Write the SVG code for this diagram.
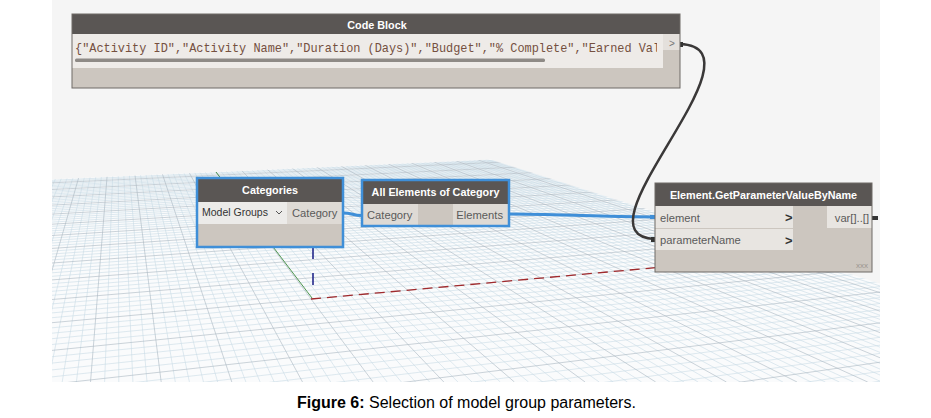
<svg xmlns="http://www.w3.org/2000/svg" width="931" height="418" viewBox="0 0 931 418">
<style>
.hdr{fill:#5a5654}
.body{fill:#ccc6bf}
.lite{fill:#e8e5e1}
.portbg{fill:#dedad5}
.ttl{font-family:"Liberation Sans",Arial,sans-serif;font-weight:bold;font-size:10.8px;fill:#ffffff;text-anchor:middle}
.pt{font-family:"Liberation Sans",Arial,sans-serif;font-size:11.2px;fill:#5a5a5a}
.sel{fill:none;stroke:#3f8fd8;stroke-width:2.5}
.frame{fill:none;stroke:#6f6a66;stroke-width:1}
.gmin{fill:none;stroke:#cadbe6;stroke-width:0.6}
.gmaj{fill:none;stroke:#a9b7c1;stroke-width:0.6}
.wb{fill:none;stroke:#3f8fd8;stroke-width:3}
.wd{fill:none;stroke:#3a3838;stroke-width:2.5}
.chev{font-family:"Liberation Sans",Arial,sans-serif;font-weight:bold;font-size:13px;fill:#333333}
</style>
<defs>
<clipPath id="plane"><polygon points="52,179.3 490.8,159.6 880,283.5 880,382 52,382"/></clipPath>
<clipPath id="codeclip"><rect x="72" y="33" width="585" height="35"/></clipPath>
</defs>
<rect x="0" y="0" width="931" height="418" fill="#ffffff"/>
<rect x="52" y="0" width="828" height="382" fill="#f5f5f5"/>
<g id="grid" clip-path="url(#plane)">
<rect x="52" y="150" width="828" height="232" fill="#fafbfc"/>
<path class="gmin" d="M118 41L-36.7 382M118 41L-22.5 382M118 41L-8.4 382M118 41L5.7 382M118 41L34 382M118 41L48.1 382M118 41L62.2 382M118 41L76.4 382M118 41L104.6 382M118 41L118.8 382M118 41L132.9 382M118 41L147 382M118 41L175.3 382M118 41L189.4 382M118 41L203.5 382M118 41L217.7 382M118 41L245.9 382M118 41L260.1 382M118 41L274.2 382M118 41L288.3 382M118 41L316.6 382M118 41L330.7 382M118 41L344.8 382M118 41L359 382M118 41L387.2 382M118 41L401.4 382M118 41L415.5 382M118 41L429.6 382M118 41L457.9 382M118 41L472 382M118 41L486.1 382M118 41L500.3 382M118 41L528.5 382M118 41L542.7 382M118 41L556.8 382M118 41L570.9 382M118 41L599.2 382M118 41L613.3 382M118 41L627.4 382M118 41L641.6 382M118 41L669.8 382M118 41L684 382M118 41L698.1 382M118 41L712.2 382M118 41L740.5 382M118 41L754.6 382M118 41L768.7 382M118 41L782.9 382M118 41L811.1 382M118 41L825.3 382M118 41L839.4 382M118 41L853.5 382M118 41L881.8 382M118 41L895.9 382M118 41L910 382M118 41L924.2 382M118 41L952.4 382M118 41L966.6 382M118 41L980.7 382M118 41L994.8 382M118 41L1023.1 382M118 41L1037.2 382M118 41L1051.3 382M118 41L1065.5 382M118 41L1093.7 382M118 41L1107.9 382M118 41L1122 382M118 41L1136.1 382M118 41L1164.4 382M118 41L1178.5 382"/>
<path class="gmin" d="M52 506.2L880 381.2M52 492.8L880 371.4M52 468.2L880 353.4M52 456.9L880 345.2M52 446.2L880 337.3M52 436L880 329.9M52 417.1L880 316M52 408.3L880 309.6M52 399.9L880 303.5M52 391.9L880 297.6M52 376.9L880 286.6M52 369.9L880 281.5M52 363.1L880 276.6M52 356.7L880 271.8M52 344.5L880 262.9M52 338.7L880 258.7M52 333.2L880 254.7M52 327.8L880 250.8M52 317.7L880 243.4M52 312.9L880 239.9M52 308.3L880 236.5M52 303.9L880 233.2M52 295.3L880 227M52 291.3L880 224M52 287.4L880 221.2M52 283.6L880 218.4M52 276.3L880 213.1M52 272.8L880 210.5M52 269.5L880 208.1M52 266.2L880 205.7M52 259.9L880 201.1M52 256.9L880 198.9M52 254L880 196.7M52 251.1L880 194.7M52 245.7L880 190.7M52 243L880 188.7M52 240.5L880 186.9M52 238L880 185M52 233.1L880 181.5M52 230.8L880 179.8M52 228.6L880 178.2M52 226.3L880 176.5M52 222.1L880 173.4M52 220L880 171.9M52 218L880 170.4M52 216L880 169M52 212.2L880 166.2M52 210.4L880 164.9M52 208.6L880 163.5M52 206.8L880 162.2M52 203.4L880 159.7M52 201.7L880 158.5M52 200.1L880 157.3M52 198.5L880 156.2M52 195.4L880 153.9M52 193.9L880 152.8M52 192.4L880 151.7M52 191L880 150.7M52 188.2L880 148.6M52 186.8L880 147.6M52 185.5L880 146.6M52 184.1L880 145.7M52 181.6L880 143.8M52 180.3L880 142.9"/>
<path class="gmaj" d="M118 41L19.9 382M118 41L90.5 382M118 41L161.2 382M118 41L231.8 382M118 41L302.5 382M118 41L373.1 382M118 41L443.8 382M118 41L514.4 382M118 41L585.1 382M118 41L655.7 382M118 41L726.4 382M118 41L797 382M118 41L867.7 382M118 41L938.3 382M118 41L1009 382M118 41L1079.6 382M118 41L1150.3 382"/>
<path class="gmaj" d="M52 480.2L880 362.2M52 426.3L880 322.8M52 384.2L880 292M52 350.4L880 267.3M52 322.7L880 247M52 299.5L880 230.1M52 279.9L880 215.7M52 263L880 203.3M52 248.4L880 192.6M52 235.5L880 183.3M52 224.2L880 175M52 214.1L880 167.6M52 205.1L880 161M52 196.9L880 155M52 189.5L880 149.6M52 182.8L880 144.7"/>
</g>
<g id="axes">
<line x1="312" y1="298" x2="216" y2="172" stroke="#3c8a3c" stroke-width="0.9"/>
<line x1="311" y1="299" x2="791" y2="255.3" stroke="#a12a2d" stroke-width="1.3" stroke-dasharray="10 6"/>
<line x1="313" y1="247" x2="313" y2="290" stroke="#23288a" stroke-width="1.6" stroke-dasharray="12 14"/>
</g>
<g id="connectors">
<path class="wb" d="M343 213C353 213 352 215.5 362 215.5"/>
<path class="wb" d="M509 214C580 214 585 217 655 217"/>
<path class="wd" d="M680 44C772 48 568 236 655 239"/>
<rect x="650" y="215" width="5" height="4" fill="#3f8fd8"/>
<rect x="651" y="237" width="5" height="5" fill="#333"/>
<rect x="679" y="42" width="4" height="5" fill="#333"/>
<rect x="872" y="216" width="6" height="4" fill="#333"/>
</g>
<g id="code-block">
<rect x="72" y="14" width="608" height="74" class="body"/>
<rect x="72" y="14" width="608" height="20" class="hdr"/>
<text x="377" y="28.5" class="ttl">Code Block</text>
<rect x="72" y="34" width="591" height="34" fill="#eeebe8"/>
<rect x="663" y="34" width="17" height="16" fill="#e4e0dc"/>
<text x="669" y="47" font-family="Liberation Sans, Arial, sans-serif" font-size="10" fill="#777">&gt;</text>
<g clip-path="url(#codeclip)">
<text x="75" y="51.5" font-family="Liberation Mono, DejaVu Sans Mono, monospace" font-size="11.9" fill="#75503f">{"Activity ID","Activity Name","Duration (Days)","Budget","% Complete","Earned Val</text>
</g>
<rect x="75" y="58.5" width="470" height="3.5" rx="1.5" fill="#8e8a86"/>
<rect x="72" y="14" width="608" height="74" class="frame"/>
</g>
<g id="categories">
<rect x="197" y="178" width="146" height="69" class="body"/>
<rect x="197" y="178" width="146" height="24" class="hdr"/>
<text x="270" y="194" class="ttl">Categories</text>
<rect x="198" y="202" width="89" height="22" fill="#ecebe9"/>
<rect x="287" y="202" width="55" height="22" class="portbg"/>
<text x="202" y="215.5" font-family="Liberation Sans, Arial, sans-serif" font-size="10.5" fill="#333">Model Groups</text>
<polyline points="276,211 279,214 282,211" fill="none" stroke="#555" stroke-width="1"/>
<text x="292" y="217" class="pt">Category</text>
<rect x="197" y="178" width="146" height="69" class="sel"/>
</g>
<g id="all-elements-of-category">
<rect x="362" y="180" width="147" height="46" class="body"/>
<rect x="362" y="180" width="147" height="24" class="hdr"/>
<text x="435.5" y="196" class="ttl">All Elements of Category</text>
<rect x="363" y="204" width="55" height="21" class="portbg"/>
<rect x="453" y="204" width="55" height="21" class="portbg"/>
<text x="367" y="219" class="pt">Category</text>
<text x="503" y="219" class="pt" text-anchor="end">Elements</text>
<rect x="362" y="180" width="147" height="46" class="sel"/>
</g>
<g id="get-parameter-value-by-name">
<rect x="655" y="183" width="217" height="89" class="body"/>
<rect x="655" y="183" width="217" height="23" class="hdr"/>
<text x="763.5" y="198.5" class="ttl">Element.GetParameterValueByName</text>
<rect x="655" y="206" width="138" height="22" class="lite"/>
<rect x="655" y="229" width="138" height="21" class="lite"/>
<rect x="827" y="206" width="45" height="22" class="lite"/>
<text x="660" y="221.5" class="pt">element</text>
<text x="660" y="244" class="pt">parameterName</text>
<text x="785" y="222" class="chev">&gt;</text>
<text x="785" y="245" class="chev">&gt;</text>
<text x="869" y="221.5" class="pt" text-anchor="end">var[]..[]</text>
<text x="868" y="267.5" font-family="Liberation Sans, Arial, sans-serif" font-size="8" fill="#9a9590" text-anchor="end">xxx</text>
<rect x="655" y="183" width="217" height="89" class="frame"/>
</g>
<text x="297" y="408" font-family="Liberation Sans, Arial, sans-serif" font-size="16" fill="#000"><tspan font-weight="bold">Figure 6:</tspan> Selection of model group parameters.</text>
</svg>
